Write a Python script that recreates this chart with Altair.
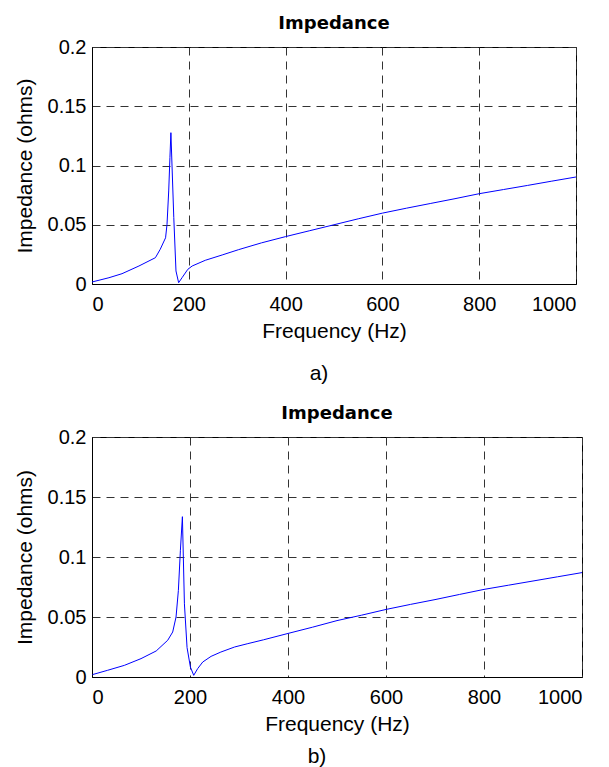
import altair as alt
import pandas as pd

# ---- data ----
freq_a = [0, 35, 62, 97, 131, 141, 152, 155, 158.5, 161, 163, 169, 173.5, 179,
          186, 198, 207, 234, 269, 303, 350, 400, 450, 500, 550, 600, 650, 700,
          750, 800, 850, 900, 950, 1000]
imp_a = [0.0017, 0.0053, 0.0087, 0.0152, 0.0222, 0.0293, 0.039, 0.0504, 0.0785,
         0.1066, 0.1277, 0.056, 0.011, 0.0011, 0.0053, 0.0124, 0.0152, 0.0200,
         0.0245, 0.0290, 0.0347, 0.0400, 0.0450, 0.0500, 0.0550, 0.0598, 0.0640,
         0.0680, 0.0720, 0.0762, 0.0797, 0.0832, 0.0868, 0.0903]

freq_b = [1, 32, 66, 100, 131, 154.5, 164.7, 171.5, 176.3, 180.4, 184.5, 188.6,
          194, 200.8, 207.6, 215.7, 226, 243, 263, 291, 318, 350, 400, 450, 500,
          550, 600, 650, 700, 750, 800, 850, 900, 950, 1000]
imp_b = [0.002, 0.0056, 0.0097, 0.0153, 0.0217, 0.0306, 0.0375, 0.05, 0.0722,
         0.1056, 0.1336, 0.061, 0.0245, 0.0083, 0.0014, 0.007, 0.0125, 0.0172,
         0.0208, 0.025, 0.0278, 0.031, 0.0363, 0.0415, 0.047, 0.0515, 0.0563,
         0.0605, 0.0645, 0.0688, 0.073, 0.0765, 0.080, 0.0835, 0.087]

x_ticks = [0, 200, 400, 600, 800, 1000]
y_ticks = [0, 0.05, 0.1, 0.15, 0.2]
panel_title = "Impedance"
x_title = "Frequency (Hz)"
y_title = "Impedance (ohms)"
captions = ["a)", "b)"]

FONT = "Liberation Sans"


def panel(freq, imp, caption, w, h, cap_x, cap_dy):
    df = pd.DataFrame({"f": freq, "z": imp})
    line = alt.Chart(df).mark_line(color="#0000ff", strokeWidth=1, clip=True).encode(
        x=alt.X("f:Q", scale=alt.Scale(domain=[0, 1000], nice=False),
                axis=alt.Axis(values=x_ticks, format="d", title=x_title)),
        y=alt.Y("z:Q", scale=alt.Scale(domain=[0, 0.2], nice=False),
                axis=alt.Axis(values=y_ticks, labelExpr="format(datum.value, '~g')",
                              title=y_title)),
    )
    cap = alt.Chart(pd.DataFrame({"t": [caption]})).mark_text(
        font=FONT, fontSize=21, baseline="alphabetic", align="center", color="black"
    ).encode(text="t:N", x=alt.value(cap_x), y=alt.value(h + cap_dy))
    return alt.layer(line, cap).properties(
        width=w, height=h,
        title=alt.Title(panel_title, font="DejaVu Sans", fontSize=18, fontWeight="bold",
                        color="black", offset=4),
    )


pa = panel(freq_a, imp_a, captions[0], 484, 237, 227, 96)
pb = panel(freq_b, imp_b, captions[1], 490, 240, 225, 86)

chart = alt.vconcat(pa, pb, spacing=19).properties(
    padding={"left": 5, "top": 6, "right": 5, "bottom": 0}
).configure_view(
    stroke="black", strokeWidth=1
).configure_axis(
    labelFont=FONT, titleFont=FONT, labelFontSize=20, titleFontSize=21,
    labelColor="black", titleColor="black", titleFontWeight="normal",
    domainColor="black", domainWidth=1, ticks=False,
    grid=True, gridColor="#333333", gridDash=[8, 6], gridWidth=1, gridOpacity=1,
).configure_axisX(
    labelPadding=10, titlePadding=6,
).configure_axisY(
    labelPadding=6, titlePadding=12,
)

chart.save("out.html", embed_options={"renderer": "svg", "actions": False})
